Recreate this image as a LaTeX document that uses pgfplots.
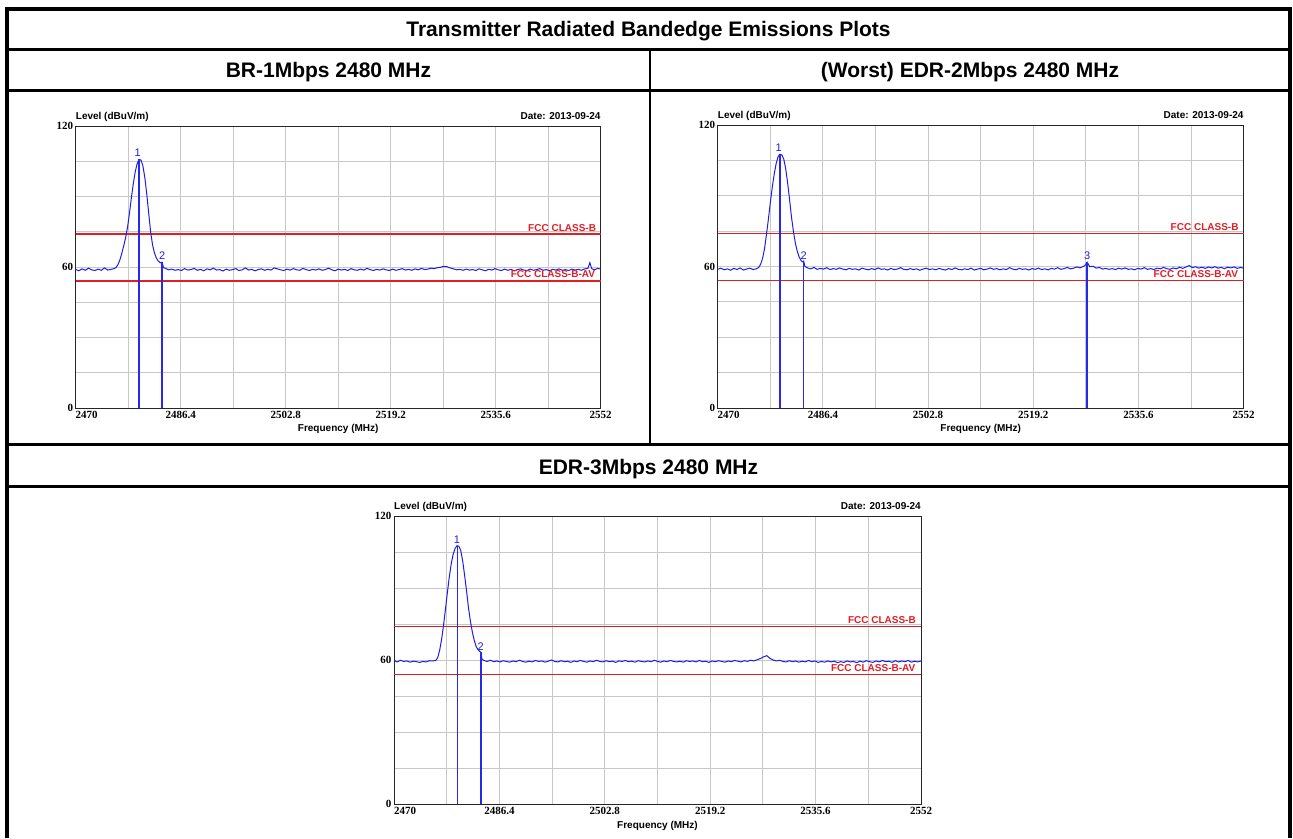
\documentclass[border=0pt]{standalone}
\usepackage{fontspec}
\setmainfont{Liberation Sans}
\newfontfamily\tickfont{Liberation Serif}
\usepackage{pgfplots}
\usepackage{pgfplotstable}
\pgfplotsset{compat=1.18}

\definecolor{trc}{RGB}{30,30,225}
\definecolor{mkc}{RGB}{40,40,235}
\definecolor{limc}{RGB}{225,30,35}
\definecolor{gridc}{RGB}{200,200,200}

% BR-1Mbps
\pgfplotstableread{
x y
2470.0 58.9
2470.5 58.4
2471.0 59.2
2471.5 58.6
2472.0 59.5
2472.5 58.8
2473.0 58.5
2473.5 59.1
2474.0 58.6
2474.5 59.6
2475.0 58.7
2475.5 59.0
2476.0 59.3
2476.3 59.8
2476.6 61.0
2476.9 63.0
2477.2 65.8
2477.5 69.0
2477.8 72.5
2478.1 77.0
2478.4 83.0
2478.7 89.5
2479.0 95.5
2479.3 100.5
2479.6 104.0
2479.9 105.8
2480.2 105.5
2480.5 103.0
2480.8 98.0
2481.1 91.0
2481.4 83.0
2481.7 75.0
2482.0 69.5
2482.3 66.0
2482.6 63.8
2482.9 62.5
2483.2 61.8
2483.5 62.0
2483.7 59.8
2484.0 59.4
2484.5 58.8
2485.0 59.1
2485.5 58.6
2486.0 58.9
2486.5 58.5
2487.0 59.3
2487.5 58.7
2488.0 58.9
2488.5 59.4
2489.0 58.6
2489.5 59.0
2490.0 58.4
2490.5 59.2
2491.0 58.8
2491.5 59.5
2492.0 58.7
2492.5 58.9
2493.0 58.3
2493.5 59.1
2494.0 58.6
2494.5 58.9
2495.0 59.3
2495.5 58.5
2496.0 58.8
2496.5 59.6
2497.0 58.7
2497.5 59.0
2498.0 58.4
2498.5 58.9
2499.0 59.2
2499.5 58.6
2500.0 59.0
2500.5 58.7
2501.0 59.6
2501.5 59.2
2502.0 58.8
2502.5 58.5
2503.0 59.1
2503.5 58.7
2504.0 59.3
2504.5 58.8
2505.0 58.6
2505.5 59.4
2506.0 58.9
2506.5 58.5
2507.0 59.0
2507.5 58.7
2508.0 59.2
2508.5 58.6
2509.0 58.9
2509.5 59.5
2510.0 58.8
2510.5 58.4
2511.0 59.1
2511.5 58.7
2512.0 59.0
2512.5 58.5
2513.0 59.3
2513.5 58.8
2514.0 58.6
2514.5 59.1
2515.0 58.7
2515.5 59.4
2516.0 58.9
2516.5 58.5
2517.0 59.0
2517.5 58.7
2518.0 59.2
2518.5 58.8
2519.0 58.5
2519.5 59.1
2520.0 58.6
2520.5 58.9
2521.0 59.3
2521.5 58.7
2522.0 59.0
2522.5 58.6
2523.0 59.2
2523.5 58.8
2524.0 59.4
2524.5 58.9
2525.0 59.1
2525.5 59.5
2526.0 59.3
2526.5 59.7
2527.0 59.9
2527.5 60.3
2528.0 60.1
2528.5 59.6
2529.0 59.2
2529.5 58.8
2530.0 59.0
2530.5 58.6
2531.0 59.1
2531.5 58.7
2532.0 58.9
2532.5 58.5
2533.0 59.2
2533.5 58.8
2534.0 58.4
2534.5 59.0
2535.0 58.7
2535.5 59.3
2536.0 58.8
2536.5 58.5
2537.0 59.1
2537.5 58.6
2538.0 59.0
2538.5 58.4
2539.0 58.9
2539.5 59.2
2540.0 58.7
2540.5 58.5
2541.0 59.1
2541.5 58.6
2542.0 58.9
2542.5 59.3
2543.0 58.6
2543.5 58.9
2544.0 58.4
2544.5 59.0
2545.0 58.7
2545.5 59.2
2546.0 58.6
2546.5 58.9
2547.0 58.5
2547.5 59.1
2548.0 58.7
2548.5 59.0
2549.0 58.6
2549.5 59.2
2550.0 59.4
2550.3 61.8
2550.6 59.3
2551.0 58.8
2551.5 59.4
2552.0 59.1
}\traceA

% EDR-2Mbps
\pgfplotstableread{
x y
2470.0 58.8
2470.5 59.3
2471.0 58.6
2471.5 59.0
2472.0 58.4
2472.5 59.2
2473.0 58.7
2473.5 59.4
2474.0 58.5
2474.5 58.9
2475.0 59.3
2475.5 58.7
2476.0 59.0
2476.4 59.6
2476.7 61.0
2477.0 63.5
2477.3 67.5
2477.6 73.5
2477.9 80.0
2478.2 87.0
2478.5 93.5
2478.8 99.0
2479.1 103.5
2479.4 106.5
2479.7 107.6
2480.0 107.3
2480.3 105.5
2480.6 101.5
2480.9 95.5
2481.2 88.5
2481.5 81.0
2481.8 75.0
2482.1 70.0
2482.4 66.5
2482.7 64.0
2483.0 62.5
2483.2 62.0
2483.4 62.3
2483.6 60.0
2484.0 59.4
2484.5 59.0
2485.0 59.6
2485.5 58.8
2486.0 59.2
2486.5 58.9
2487.0 59.5
2487.5 58.7
2488.0 59.1
2488.5 58.8
2489.0 59.4
2489.5 58.9
2490.0 58.6
2490.5 59.2
2491.0 58.8
2491.5 59.0
2492.0 58.5
2492.5 59.3
2493.0 58.9
2493.5 58.6
2494.0 59.1
2494.5 58.7
2495.0 59.4
2495.5 58.8
2496.0 59.0
2496.5 58.5
2497.0 59.2
2497.5 58.7
2498.0 58.9
2498.5 59.5
2499.0 58.8
2499.5 58.6
2500.0 59.1
2500.5 58.7
2501.0 59.0
2501.5 58.4
2502.0 58.9
2502.5 59.3
2503.0 58.7
2503.5 59.0
2504.0 58.6
2504.5 59.2
2505.0 58.8
2505.5 58.5
2506.0 59.1
2506.5 58.7
2507.0 59.4
2507.5 58.8
2508.0 58.6
2508.5 59.0
2509.0 58.7
2509.5 59.3
2510.0 58.5
2510.5 58.9
2511.0 59.2
2511.5 58.6
2512.0 58.9
2512.5 59.4
2513.0 58.8
2513.5 59.1
2514.0 58.6
2514.5 59.0
2515.0 58.7
2515.5 59.5
2516.0 58.9
2516.5 58.6
2517.0 59.2
2517.5 58.8
2518.0 59.0
2518.5 58.5
2519.0 59.1
2519.5 58.8
2520.0 59.3
2520.5 58.7
2521.0 59.0
2521.5 58.6
2522.0 59.2
2522.5 58.9
2523.0 59.5
2523.5 58.8
2524.0 59.1
2524.5 59.6
2525.0 59.0
2525.5 59.3
2526.0 59.8
2526.5 59.4
2527.2 60.3
2527.6 61.8
2528.0 59.9
2528.5 60.1
2529.0 59.3
2529.5 59.6
2530.0 58.9
2530.5 59.2
2531.0 58.8
2531.5 59.1
2532.0 58.7
2532.5 59.3
2533.0 58.9
2533.5 59.4
2534.0 58.8
2534.5 59.0
2535.0 58.6
2535.5 59.2
2536.0 58.9
2536.5 59.5
2537.0 58.8
2537.5 59.1
2538.0 58.7
2538.5 59.3
2539.0 59.0
2539.5 59.6
2540.0 59.1
2540.5 58.8
2541.0 59.4
2541.5 59.0
2542.0 59.7
2542.5 59.2
2543.0 59.8
2543.5 60.4
2544.0 59.5
2544.5 59.9
2545.0 59.3
2545.5 59.7
2546.0 59.2
2546.5 59.8
2547.0 59.4
2547.5 59.9
2548.0 59.3
2548.5 59.6
2549.0 59.1
2549.5 59.7
2550.0 59.4
2550.5 59.8
2551.0 59.2
2551.5 59.6
2552.0 59.3
}\traceB

% EDR-3Mbps
\pgfplotstableread{
x y
2470.0 59.8
2470.5 59.2
2471.0 59.9
2471.5 59.4
2472.0 59.6
2472.5 59.1
2473.0 59.5
2473.5 59.3
2474.0 59.0
2474.5 59.4
2475.0 59.2
2475.5 59.7
2476.0 59.6
2476.5 59.8
2476.8 61.0
2477.1 64.0
2477.4 68.5
2477.7 74.3
2478.0 81.0
2478.3 88.0
2478.6 94.5
2478.9 100.0
2479.2 104.0
2479.5 106.5
2479.8 107.6
2480.1 107.4
2480.4 105.5
2480.7 101.0
2481.0 95.0
2481.3 88.5
2481.6 81.5
2481.9 76.0
2482.2 71.5
2482.5 68.0
2482.8 65.5
2483.1 64.2
2483.5 63.2
2483.7 60.3
2484.0 59.8
2484.5 59.4
2485.0 59.9
2485.5 59.3
2486.0 59.6
2486.5 59.2
2487.0 59.7
2487.5 59.4
2488.0 59.1
2488.5 59.6
2489.0 59.3
2489.5 59.9
2490.0 59.4
2490.5 59.1
2491.0 59.5
2491.5 59.2
2492.0 59.8
2492.5 59.4
2493.0 59.6
2493.5 59.1
2494.0 59.5
2494.5 60.0
2495.0 59.4
2495.5 59.2
2496.0 59.7
2496.5 59.3
2497.0 59.5
2497.5 59.0
2498.0 59.6
2498.5 59.3
2499.0 59.8
2499.5 59.4
2500.0 59.1
2500.5 59.6
2501.0 59.3
2501.5 59.9
2502.0 59.4
2502.5 59.2
2503.0 59.7
2503.5 59.3
2504.0 59.5
2504.5 59.0
2505.0 59.6
2505.5 59.4
2506.0 59.8
2506.5 59.3
2507.0 59.5
2507.5 59.1
2508.0 59.7
2508.5 59.4
2509.0 59.2
2509.5 59.6
2510.0 59.3
2510.5 59.9
2511.0 59.4
2511.5 59.1
2512.0 59.6
2512.5 59.3
2513.0 59.8
2513.5 59.4
2514.0 59.2
2514.5 59.5
2515.0 59.1
2515.5 59.7
2516.0 59.4
2516.5 59.6
2517.0 59.2
2517.5 59.8
2518.0 59.3
2518.5 59.5
2519.0 59.0
2519.5 59.6
2520.0 59.3
2520.5 59.7
2521.0 59.4
2521.5 59.1
2522.0 59.6
2522.5 59.3
2523.0 59.8
2523.5 59.5
2524.0 59.2
2524.5 59.7
2525.0 59.4
2525.5 59.9
2526.0 59.6
2526.5 60.1
2527.0 60.6
2527.5 61.3
2528.0 61.8
2528.5 60.7
2529.0 60.0
2529.5 59.6
2530.0 59.9
2530.5 59.4
2531.0 59.2
2531.5 59.7
2532.0 59.3
2532.5 59.6
2533.0 59.1
2533.5 59.5
2534.0 59.2
2534.5 59.8
2535.0 59.3
2535.5 59.6
2536.0 59.0
2536.5 59.4
2537.0 59.1
2537.5 59.6
2538.0 59.2
2538.5 59.5
2539.0 58.9
2539.5 59.3
2540.0 59.0
2540.5 59.6
2541.0 59.2
2541.5 59.4
2542.0 58.9
2542.5 59.5
2543.0 59.1
2543.5 59.7
2544.0 59.3
2544.5 59.0
2545.0 59.6
2545.5 59.2
2546.0 59.8
2546.5 59.3
2547.0 59.5
2547.5 59.0
2548.0 59.7
2548.5 59.2
2549.0 59.6
2549.5 59.3
2550.0 59.8
2550.5 59.1
2551.0 59.5
2551.5 59.2
2552.0 59.6
}\traceC

\newcommand{\smallbf}{\bfseries\fontsize{10}{12}\selectfont}
\newcommand{\headfont}{\bfseries\fontsize{21}{25}\selectfont}
\newcommand{\mkfont}{\fontsize{11}{12}\selectfont}

\pgfplotsset{
  emi/.style={
    scale only axis, anchor=south west, clip=false,
    xmin=2470, xmax=2552, ymin=0, ymax=120,
    axis line style={black!85, line width=0.8pt},
    xtick={2470,2486.4,2502.8,2519.2,2535.6,2552},
    xticklabels={\makebox[0pt][l]{2470},2486.4,2502.8,2519.2,2535.6,2552},
    minor xtick={2478.2,2494.6,2511,2527.4,2543.8},
    ytick={0,60,120}, yticklabels={0,60,120},
    minor ytick={15,30,45,75,90,105},
    grid=both,
    major grid style={gridc, line width=0.9pt},
    minor grid style={gridc, line width=0.9pt},
    major tick length=0pt, minor tick length=0pt,
    tick label style={font=\tickfont\bfseries\fontsize{11}{11}\selectfont},
    xticklabel style={anchor=base, yshift=-10.5pt},
    yticklabel style={anchor=east, xshift=-2.5pt, inner sep=0pt},
  },
  tr/.style={draw=trc, line width=1pt, mark=none},
  mk/.style={draw=mkc, line width=1.6pt, mark=none},
  lim/.style={draw=limc, line width=1.4pt, mark=none},
}

\begin{document}
\begin{tikzpicture}[x=1pt,y=1pt]
\useasboundingbox (0,0) rectangle (1293,838);

% BR-1Mbps
\begin{axis}[emi, at={(75.7pt,430pt)}, width=525pt, height=282pt]
  \addplot[lim] coordinates {(2470,74) (2552,74)};
  \addplot[lim] coordinates {(2470,54) (2552,54)};
  \addplot[tr] table[x=x,y=y] {\traceA};
  \addplot[mk] coordinates {(2479.9,0) (2479.9,105.8)};
  \addplot[mk] coordinates {(2483.5,0) (2483.5,62.0)};
  \node[anchor=south, text=trc, font=\mkfont, inner sep=1pt] at (axis cs:2479.7,106.5) {1};
  \node[anchor=south, text=trc, font=\mkfont, inner sep=1pt] at (axis cs:2483.5,62.5) {2};
  \node[anchor=base east, text=limc, font=\smallbf, inner sep=0pt, xshift=-4.5pt, yshift=2.5pt] at (axis cs:2552,74) {FCC CLASS-B};
  \node[anchor=base east, text=limc, font=\smallbf, inner sep=0pt, xshift=-5.5pt, yshift=3.5pt] at (axis cs:2552,54) {FCC CLASS-B-AV};
  \node[anchor=base west, font=\smallbf, inner sep=0pt, yshift=6pt] at (rel axis cs:0,1) {Level (dBuV/m)};
  \node[anchor=base east, font=\smallbf, inner sep=0pt, yshift=6pt] at (rel axis cs:1,1) {Date: 2013-09-24};
  \node[anchor=base, font=\smallbf, inner sep=0pt, yshift=-24pt] at (rel axis cs:0.5,0) {Frequency (MHz)};
\end{axis}

% EDR-2Mbps
\begin{axis}[emi, at={(717.7pt,430pt)}, width=526pt, height=283pt]
  \addplot[lim] coordinates {(2470,74) (2552,74)};
  \addplot[lim] coordinates {(2470,54) (2552,54)};
  \addplot[tr] table[x=x,y=y] {\traceB};
  \addplot[mk] coordinates {(2479.7,0) (2479.7,107.6)};
  \addplot[mk] coordinates {(2483.4,0) (2483.4,62.3)};
  \addplot[mk] coordinates {(2527.6,0) (2527.6,61.8)};
  \node[anchor=south, text=trc, font=\mkfont, inner sep=1pt] at (axis cs:2479.5,108.2) {1};
  \node[anchor=south, text=trc, font=\mkfont, inner sep=1pt] at (axis cs:2483.4,62.6) {2};
  \node[anchor=south, text=trc, font=\mkfont, inner sep=1pt] at (axis cs:2527.6,62.2) {3};
  \node[anchor=base east, text=limc, font=\smallbf, inner sep=0pt, xshift=-5pt, yshift=3pt] at (axis cs:2552,74) {FCC CLASS-B};
  \node[anchor=base east, text=limc, font=\smallbf, inner sep=0pt, xshift=-5.5pt, yshift=3pt] at (axis cs:2552,54) {FCC CLASS-B-AV};
  \node[anchor=base west, font=\smallbf, inner sep=0pt, yshift=6pt] at (rel axis cs:0,1) {Level (dBuV/m)};
  \node[anchor=base east, font=\smallbf, inner sep=0pt, yshift=6pt] at (rel axis cs:1,1) {Date: 2013-09-24};
  \node[anchor=base, font=\smallbf, inner sep=0pt, yshift=-24pt] at (rel axis cs:0.5,0) {Frequency (MHz)};
\end{axis}

% EDR-3Mbps
\begin{axis}[emi, at={(394pt,34pt)}, width=527pt, height=288pt]
  \addplot[lim] coordinates {(2470,74) (2552,74)};
  \addplot[lim] coordinates {(2470,54) (2552,54)};
  \addplot[tr] table[x=x,y=y] {\traceC};
  \addplot[mk] coordinates {(2479.9,0) (2479.9,107.6)};
  \addplot[mk] coordinates {(2483.5,0) (2483.5,63.2)};
  \node[anchor=south, text=trc, font=\mkfont, inner sep=1pt] at (axis cs:2479.8,108.2) {1};
  \node[anchor=south, text=trc, font=\mkfont, inner sep=1pt] at (axis cs:2483.5,63.4) {2};
  \node[anchor=base east, text=limc, font=\smallbf, inner sep=0pt, xshift=-5pt, yshift=3pt] at (axis cs:2552,74) {FCC CLASS-B};
  \node[anchor=base east, text=limc, font=\smallbf, inner sep=0pt, xshift=-5.5pt, yshift=3pt] at (axis cs:2552,54) {FCC CLASS-B-AV};
  \node[anchor=base west, font=\smallbf, inner sep=0pt, yshift=6pt] at (rel axis cs:0,1) {Level (dBuV/m)};
  \node[anchor=base east, font=\smallbf, inner sep=0pt, yshift=6pt] at (rel axis cs:1,1) {Date: 2013-09-24};
  \node[anchor=base, font=\smallbf, inner sep=0pt, yshift=-24pt] at (rel axis cs:0.5,0) {Frequency (MHz)};
\end{axis}

% table frame
\draw[line width=4pt] (7,0) -- (7,828.5) -- (1290,828.5) -- (1290,0);
\draw[line width=3pt] (7,788) -- (1290,788);
\draw[line width=3pt] (7,747) -- (1290,747);
\draw[line width=3pt] (7,393) -- (1290,393);
\draw[line width=3pt] (7,351) -- (1290,351);
\draw[line width=2.5pt] (650,788) -- (650,393);

\node[anchor=base, font=\headfont, inner sep=0pt] at (648.5,801) {Transmitter Radiated Bandedge Emissions Plots};
\node[anchor=base, font=\headfont, inner sep=0pt] at (328.5,760.5) {BR-1Mbps 2480 MHz};
\node[anchor=base, font=\headfont, inner sep=0pt] at (970,760.5) {(Worst) EDR-2Mbps 2480 MHz};
\node[anchor=base, font=\headfont, inner sep=0pt] at (648.5,363) {EDR-3Mbps 2480 MHz};
\end{tikzpicture}
\end{document}
